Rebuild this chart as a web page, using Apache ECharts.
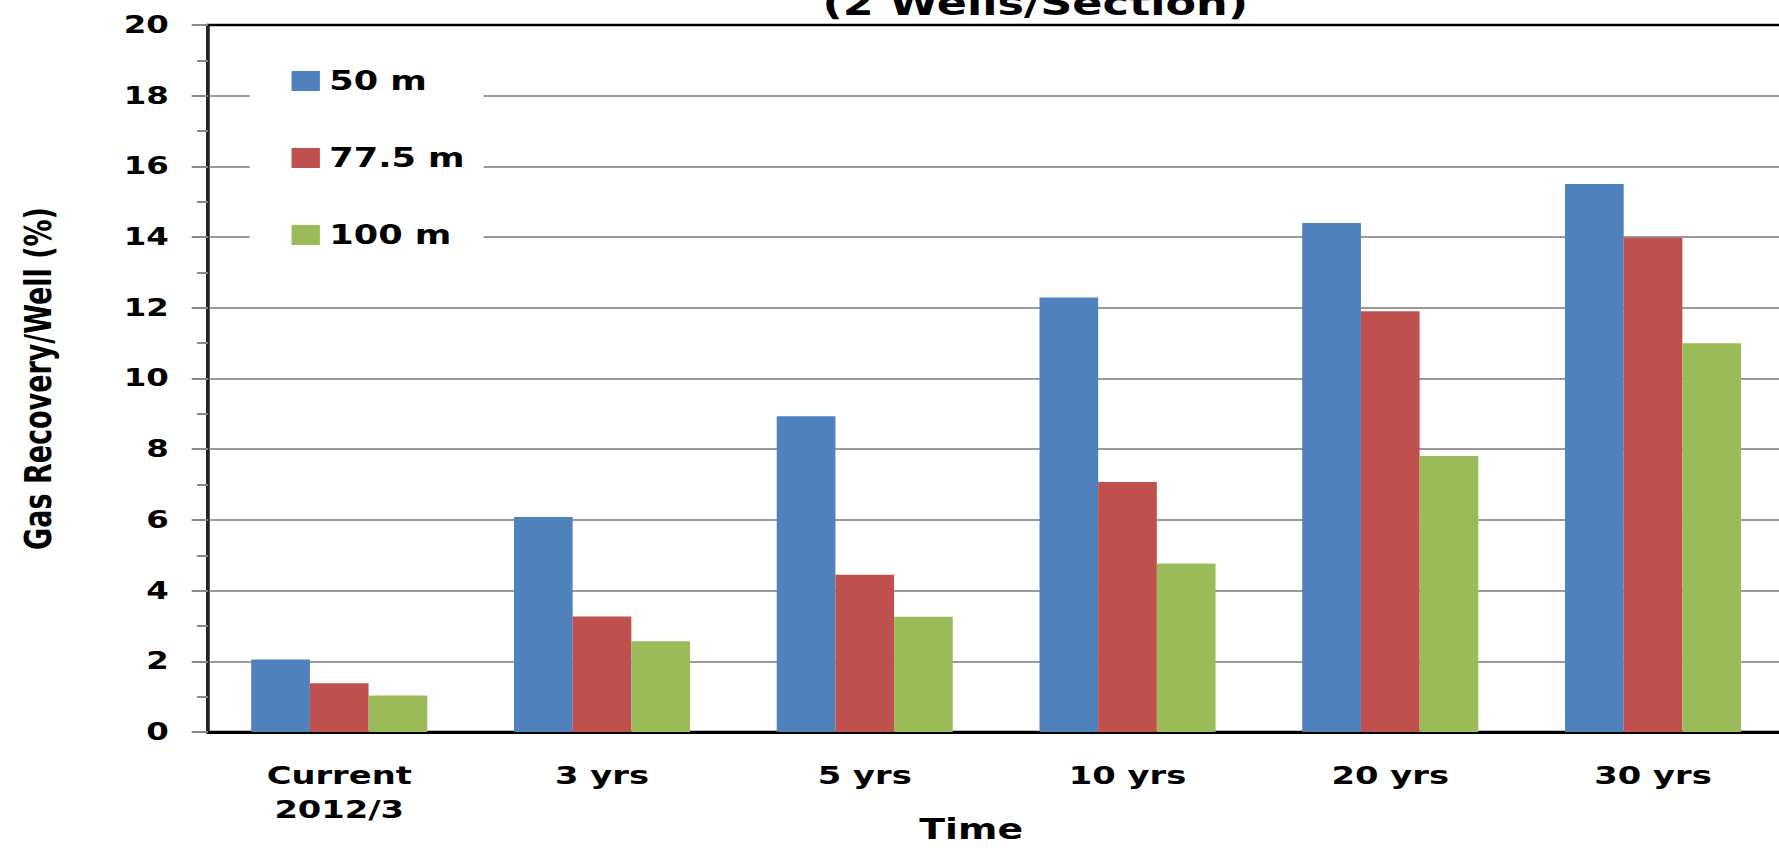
<!DOCTYPE html>
<html>
<head>
<meta charset="utf-8">
<script src="https://cdn.jsdelivr.net/npm/echarts@6/dist/echarts.min.js"></script>
<style>
html,body{margin:0;padding:0;background:#fff;overflow:hidden;}
/* the reference picture is horizontally stretched; draw at natural width and stretch */
#chart{width:1318px;height:848px;transform:scaleX(1.34977);transform-origin:0 0;}
</style>
</head>
<body>
<div id="chart"></div>
<script>
const categories = ['Current\n2012/3', '3 yrs', '5 yrs', '10 yrs', '20 yrs', '30 yrs'];
const seriesNames = ['50 m', '77.5 m', '100 m'];
const values50 = [2.05, 6.08, 8.93, 12.29, 14.4, 15.5];
const values775 = [1.38, 3.27, 4.45, 7.07, 11.9, 13.98];
const values100 = [1.03, 2.57, 3.26, 4.77, 7.81, 11.0];
const yTicks = { min: 0, max: 20, interval: 2 };
const titleText = '(2 Wells/Section)';
const xName = 'Time';
const yName = 'Gas Recovery/Well (%)';

const colors = ['#4F81BD', '#C0504D', '#9BBB59'];
const boldFont = 'DejaVu Sans';
const nSplit = (yTicks.max - yTicks.min) / yTicks.interval + 1;
const splitColors = Array.from({ length: nSplit }, (_, i) => i === nSplit - 1 ? '#000' : '#9a9a9a');

const chart = echarts.init(document.getElementById('chart'), null, { renderer: 'svg' });
const mk = (name, data, i) => ({
  name, type: 'bar', data,
  barGap: '0%', barCategoryGap: '33%',
  itemStyle: { color: colors[i] },
  emphasis: { disabled: true }
});
chart.setOption({
  animation: false,
  backgroundColor: '#fff',
  graphic: [{
    type: 'text', x: 767, y: -13, z: 10,
    style: { text: titleText, textAlign: 'center', textVerticalAlign: 'top', fontFamily: boldFont, fontWeight: 'bold', fontSize: 33, fill: '#000' }
  }],
  grid: { left: 154, right: -4, top: 25, bottom: 116, containLabel: false, outerBoundsMode: 'none',
          show: true, borderColor: '#000', borderWidth: 2.5, backgroundColor: 'transparent' },
  legend: {
    orient: 'vertical', left: 185, top: 43,
    data: seriesNames,
    itemWidth: 21, itemHeight: 20, itemGap: 51,
    padding: [25, 14, 18, 31],
    backgroundColor: '#fff',
    icon: 'rect',
    textStyle: { fontFamily: boldFont, fontWeight: 'bold', fontSize: 26, color: '#000', lineHeight: 20, padding: [0, 0, 0, 2] }
  },
  xAxis: {
    type: 'category', data: categories,
    axisLine: { lineStyle: { color: '#000', width: 3 } },
    axisTick: { show: false },
    axisLabel: { fontFamily: boldFont, fontWeight: 'bold', fontSize: 25, color: '#000', margin: 26, lineHeight: 34 },
    name: xName, nameLocation: 'middle', nameGap: 83, nameMoveOverlap: false,
    nameTextStyle: { fontFamily: boldFont, fontWeight: 'bold', fontSize: 28, color: '#000', padding: [0, 37, 0, 0] }
  },
  yAxis: {
    type: 'value', min: yTicks.min, max: yTicks.max, interval: yTicks.interval,
    axisLine: { show: true, lineStyle: { color: '#222', width: 2.2 } },
    axisTick: { show: true, length: 12, lineStyle: { color: '#888', width: 2 } },
    minorTick: { show: true, splitNumber: 2, length: 8, lineStyle: { color: '#888', width: 2 } },
    splitLine: { show: true, lineStyle: { color: splitColors, width: 2 } },
    axisLabel: { fontFamily: boldFont, fontWeight: 'bold', fontSize: 24, color: '#000', margin: 29 },
    name: yName, nameLocation: 'middle', nameGap: 112, nameRotate: 90, nameMoveOverlap: false,
    nameTextStyle: { fontFamily: boldFont, fontWeight: 'bold', fontSize: 27, color: '#000' }
  },
  series: [mk(seriesNames[0], values50, 0), mk(seriesNames[1], values775, 1), mk(seriesNames[2], values100, 2)]
});
</script>
</body>
</html>
